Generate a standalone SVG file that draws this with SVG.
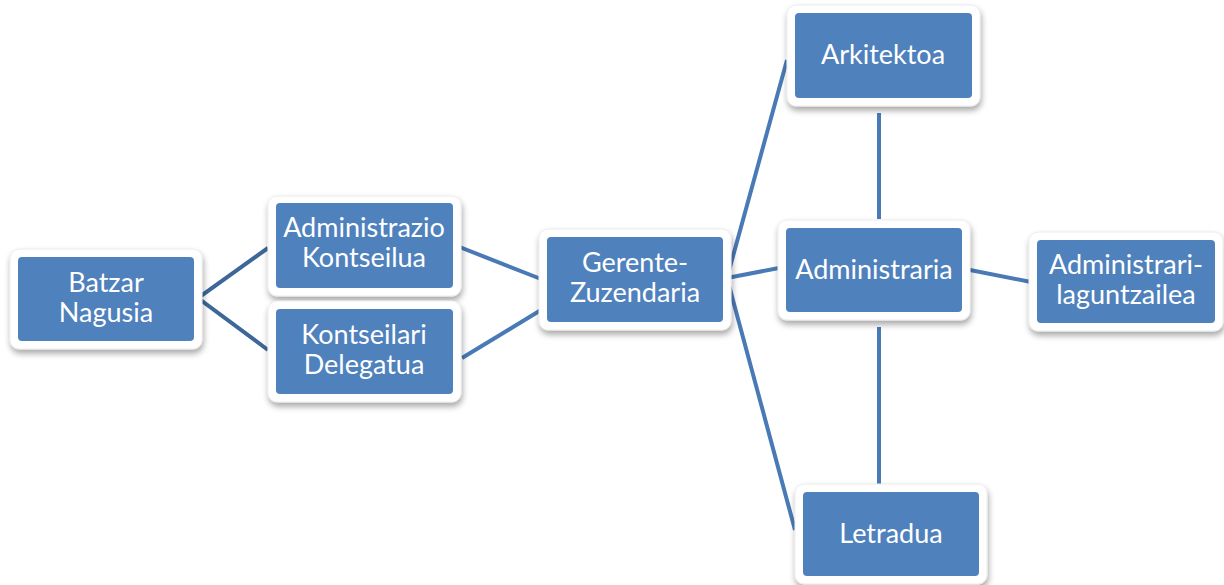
<svg xmlns="http://www.w3.org/2000/svg" width="1224" height="585" viewBox="0 0 1224 585">
<defs>
<filter id="sh" x="-10%" y="-10%" width="125%" height="135%">
<feGaussianBlur in="SourceAlpha" stdDeviation="3"/>
<feOffset dx="1" dy="4" result="b"/>
<feComponentTransfer><feFuncA type="linear" slope="0.35"/></feComponentTransfer>
<feMerge><feMergeNode/><feMergeNode in="SourceGraphic"/></feMerge>
</filter>
</defs>
<style>
.o{fill:#ffffff;stroke:#ececec;stroke-width:1;filter:url(#sh)}
.i{fill:#4f81bd}
.t{font-family:Lato,"Liberation Sans",sans-serif;font-size:27px;fill:#ffffff;text-anchor:middle}
.c{stroke:#4a7ab5;stroke-width:4;fill:none}
.d{stroke:#3d6799;stroke-width:4;fill:none}
</style>
<rect width="1224" height="585" fill="#ffffff"/>
<g id="connectors">
<polyline class="d" points="268,248 198,298 268,350"/>
<line class="c" x1="457" y1="246" x2="541" y2="279"/>
<line class="c" x1="462" y1="358" x2="541" y2="310"/>
<polyline class="c" points="787,60 727,278 795,530"/>
<line class="c" x1="727" y1="278" x2="779" y2="268"/>
<line class="c" x1="879" y1="113" x2="879" y2="219"/>
<line class="c" x1="879" y1="327" x2="879" y2="485"/>
<line class="c" x1="965" y1="269" x2="1031" y2="282"/>
</g>
<g id="batzar">
<rect class="o" x="10" y="249" width="192" height="100" rx="9"/>
<rect class="i" x="18" y="257" width="176" height="84" rx="4"/>
<text class="t" x="106" y="292">Batzar</text>
<text class="t" x="106" y="322">Nagusia</text>
</g>
<g id="admin-kontseilua">
<rect class="o" x="268" y="196" width="193" height="100" rx="9"/>
<rect class="i" x="276" y="203" width="177" height="85" rx="4"/>
<text class="t" x="364" y="237">Administrazio</text>
<text class="t" x="364" y="267">Kontseilua</text>
</g>
<g id="kontseilari">
<rect class="o" x="268" y="301" width="193" height="101" rx="9"/>
<rect class="i" x="276" y="309" width="177" height="85" rx="4"/>
<text class="t" x="364" y="344">Kontseilari</text>
<text class="t" x="364" y="374">Delegatua</text>
</g>
<g id="gerente">
<rect class="o" x="539" y="229" width="192" height="101" rx="9"/>
<rect class="i" x="547" y="237" width="176" height="85" rx="4"/>
<text class="t" x="635" y="272">Gerente-</text>
<text class="t" x="635" y="302">Zuzendaria</text>
</g>
<g id="arkitektoa">
<rect class="o" x="787" y="5" width="193" height="101" rx="9"/>
<rect class="i" x="795" y="13" width="177" height="85" rx="4"/>
<text class="t" x="883" y="64">Arkitektoa</text>
</g>
<g id="administraria">
<rect class="o" x="778" y="220" width="192" height="100" rx="9"/>
<rect class="i" x="786" y="228" width="176" height="84" rx="4"/>
<text class="t" x="874" y="279">Administraria</text>
</g>
<g id="laguntzailea">
<rect class="o" x="1029" y="232" width="194" height="99" rx="9"/>
<rect class="i" x="1037" y="240" width="178" height="83" rx="4"/>
<text class="t" x="1126" y="274">Administrari-</text>
<text class="t" x="1126" y="304">laguntzailea</text>
</g>
<g id="letradua">
<rect class="o" x="795" y="484" width="192" height="100" rx="9"/>
<rect class="i" x="803" y="492" width="176" height="84" rx="4"/>
<text class="t" x="891" y="543">Letradua</text>
</g>
</svg>
